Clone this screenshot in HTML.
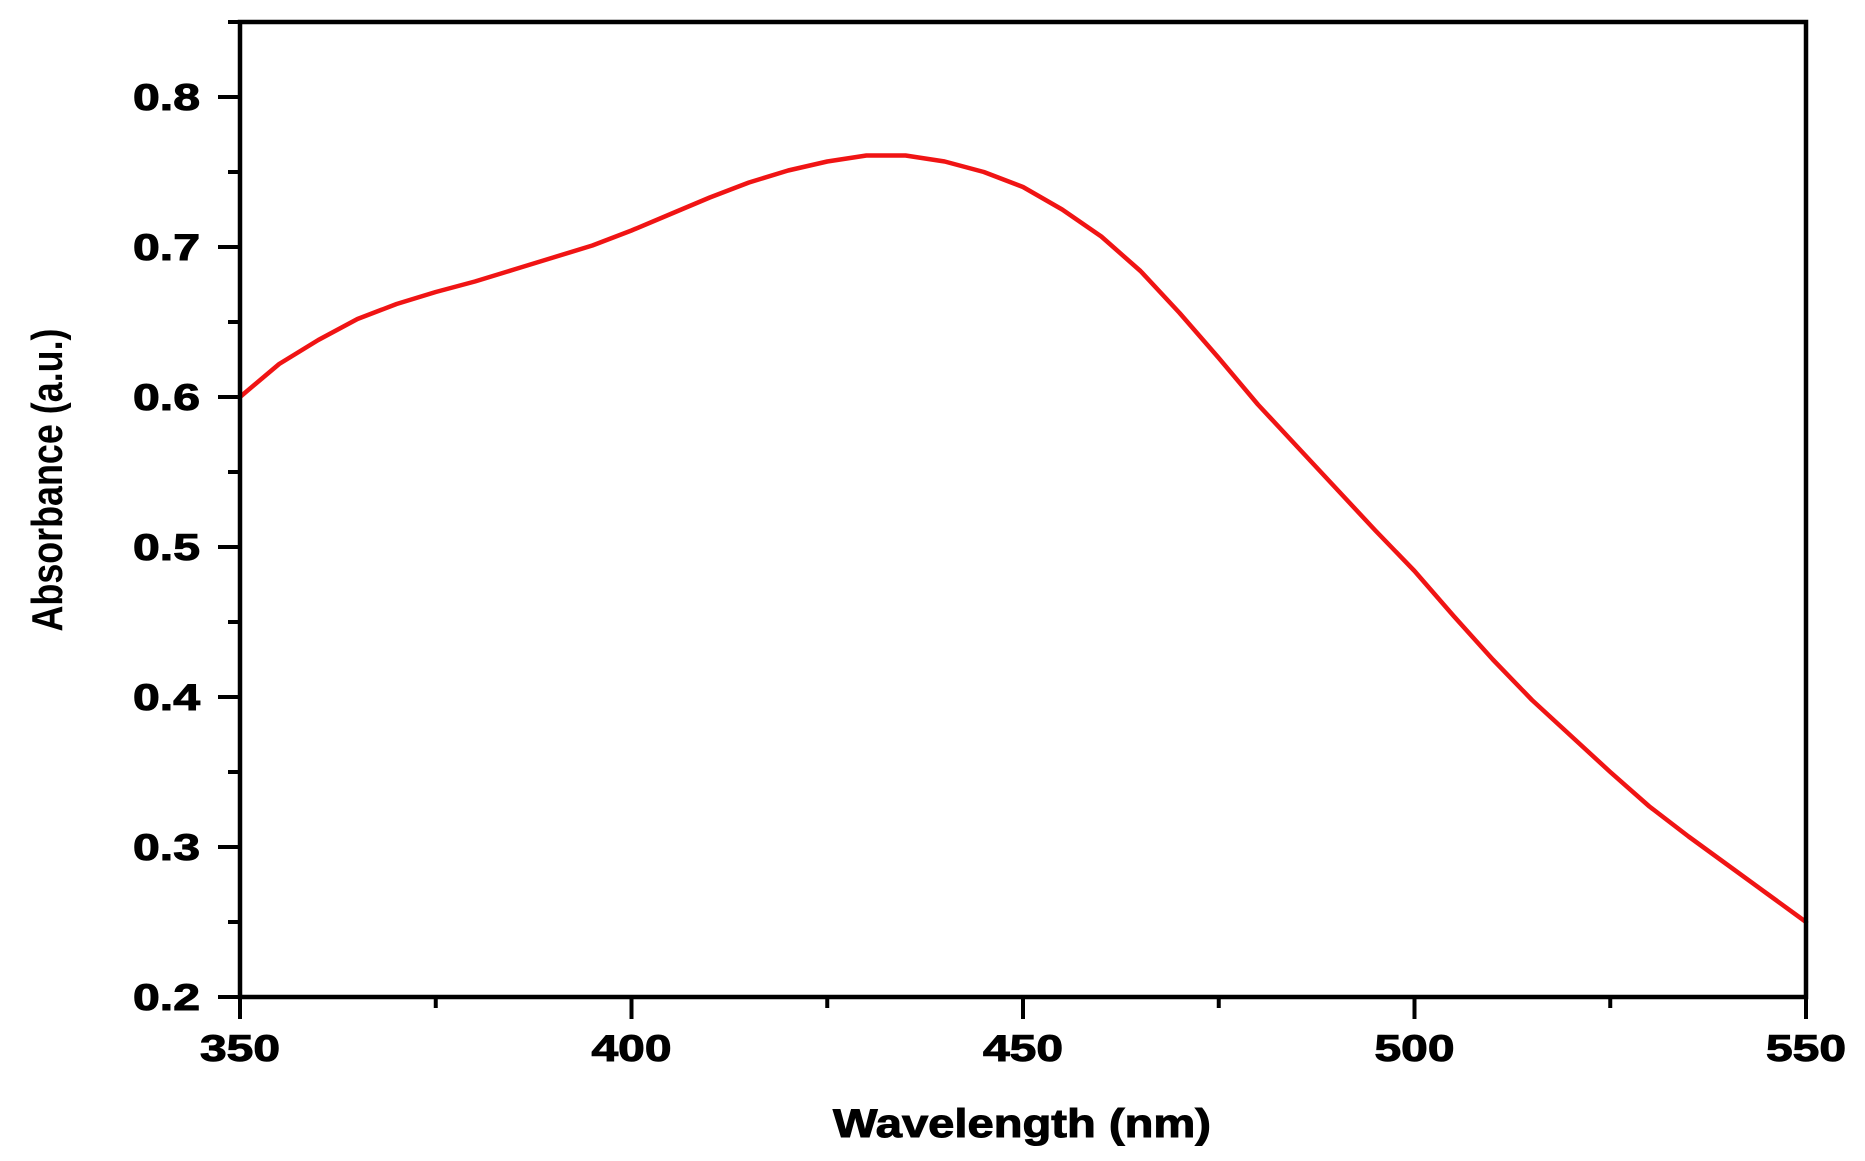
<!DOCTYPE html>
<html><head><meta charset="utf-8"><style>
html,body{margin:0;padding:0;background:#fff;}
svg{display:block;font-family:"Liberation Sans",Arial,sans-serif;}
</style></head><body>
<svg id="chart" width="1865" height="1161" viewBox="0 0 1865 1161">
<rect x="0" y="0" width="1865" height="1161" fill="#fff"/>
<g id="ticks"></g>
<polyline id="curve" fill="none" stroke="#f01414" stroke-width="4.5" stroke-linejoin="round" stroke-linecap="round"/>
<rect x="240" y="22" width="1566" height="975" fill="none" stroke="#000" stroke-width="4.5"/>
<text x="1022" y="1137" font-size="40" font-weight="bold" text-anchor="middle" textLength="378" lengthAdjust="spacingAndGlyphs" stroke="#000" stroke-width="1">Wavelength (nm)</text>
<text transform="translate(62,480) rotate(-90)" font-size="44" font-weight="bold" text-anchor="middle" textLength="303" lengthAdjust="spacingAndGlyphs">Absorbance (a.u.)</text>
</svg>
<script>
const xTicks=[350,400,450,500,550];
const yTicks=[0.2,0.3,0.4,0.5,0.6,0.7,0.8];
const yTickLabels=["0.2","0.3","0.4","0.5","0.6","0.7","0.8"];
const wavelengths=[350,355,360,365,370,375,380,385,390,395,400,405,410,415,420,425,430,435,440,445,450,455,460,465,470,475,480,485,490,495,500,505,510,515,520,525,530,535,540,545,550];
const absorbance=[0.600,0.622,0.638,0.652,0.662,0.670,0.677,0.685,0.693,0.701,0.711,0.722,0.733,0.743,0.751,0.757,0.761,0.761,0.757,0.750,0.740,0.725,0.707,0.684,0.656,0.626,0.595,0.567,0.539,0.511,0.484,0.454,0.425,0.398,0.374,0.350,0.327,0.307,0.288,0.269,0.250];
const X=v=>240+(v-350)/200*1566;
const Y=v=>997-(v-0.2)/0.1*150;
const ns="http://www.w3.org/2000/svg";
const g=document.getElementById('ticks');
function line(x1,y1,x2,y2,name){const l=document.createElementNS(ns,'line');l.setAttribute('x1',x1);l.setAttribute('y1',y1);l.setAttribute('x2',x2);l.setAttribute('y2',y2);l.setAttribute('stroke','#000');l.setAttribute('stroke-width','4');


g.appendChild(l);}
function text(x,y,s,anchor,len,name){const t=document.createElementNS(ns,'text');t.setAttribute('x',x);t.setAttribute('y',y);t.setAttribute('font-size','37');t.setAttribute('font-weight','bold');t.setAttribute('stroke','#000');t.setAttribute('stroke-width','1');t.setAttribute('text-anchor',anchor);t.setAttribute('textLength',len);t.setAttribute('lengthAdjust','spacingAndGlyphs');t.textContent=s;


g.appendChild(t);}
xTicks.forEach(v=>{line(X(v),997,X(v),1019,'x-major-tick');text(X(v),1061,String(v),'middle',80,'x-tick-label');});
for(let i=0;i<xTicks.length-1;i++){const m=(xTicks[i]+xTicks[i+1])/2;line(X(m),997,X(m),1008,'x-minor-tick');}
yTicks.forEach((v,i)=>{line(240,Y(v),218,Y(v),'y-major-tick');text(200,Y(v)+13,yTickLabels[i],'end',67,'y-tick-label');});
for(let i=0;i<yTicks.length;i++){const m=yTicks[i]+0.05;line(240,Y(m),228,Y(m),'y-minor-tick');}
document.getElementById('curve').setAttribute('points',wavelengths.map((w,i)=>X(w)+','+Y(absorbance[i])).join(' '));
</script>
</body></html>
